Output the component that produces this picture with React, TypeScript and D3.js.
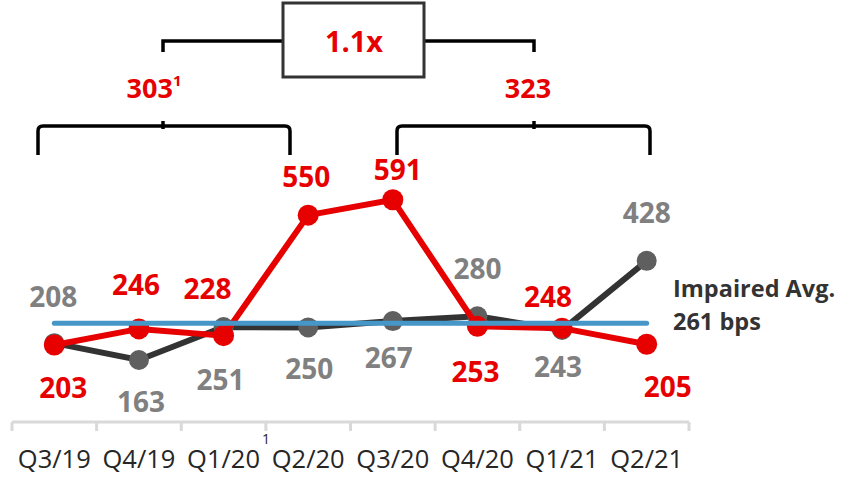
import React from 'react';
import * as d3 from 'd3';

const categories = ['Q3/19', 'Q4/19', 'Q1/20', 'Q2/20', 'Q3/20', 'Q4/20', 'Q1/21', 'Q2/21'];
const redValues = [203, 246, 228, 550, 591, 253, 248, 205];
const grayValues = [208, 163, 251, 250, 267, 280, 243, 428];
const impairedAvg = 261;
const periodAverages = ['303', '323'];
const multipleLabel = '1.1x';

// label nudges in pixels (dx, dy to baseline) relative to each point
const redNudge: [number, number][] = [[9, 53], [-3, -34], [-16, -37], [-2, -28], [5, -20], [-2, 56], [-14, -21], [21, 53]];
const grayNudge: [number, number][] = [[-1, -36], [2, 52], [-3, 63], [1, 52], [-4, 47], [0, -37], [-4, 47], [0, -38]];

const W = 850;
const H = 489;
const RED = '#e60000';
const DARK = '#333333';
const GRAYM = '#5f5f5f';
const GRAYT = '#808080';
const BLUE = '#4696c8';
const FONT = "'Open Sans', sans-serif";

export default function App() {
  const x = d3.scaleBand<string>().domain(categories).range([12, 689]);
  const cx = (c: string) => (x(c) as number) + x.bandwidth() / 2;
  const y = d3.scaleLinear().domain([0, 700]).range([421, 159]);

  const line = d3.line<number>().x((_, i) => cx(categories[i])).y((v) => y(v));

  const boundaries = [...categories.map((c) => x(c) as number), 689];

  const bracket = (x0: number, x1: number, yy: number, drop: number, r: number) =>
    `M${x0},${yy + drop} L${x0},${yy + r} Q${x0},${yy} ${x0 + r},${yy} L${x1 - r},${yy} Q${x1},${yy} ${x1},${yy + r} L${x1},${yy + drop}`;

  const leftMid = 163;
  const rightMid = 534;

  return (
    <svg width={W} height={H} style={{ position: 'absolute', left: 0, top: 0, background: '#fff' }} fontFamily={FONT}>
      {/* top bracket with box */}
      <path d={`M${leftMid},52 L${leftMid},41 L283,41`} fill="none" stroke="#000" strokeWidth={3.5} />
      <path d={`M424,41 L${rightMid},41 L${rightMid},52`} fill="none" stroke="#000" strokeWidth={3.5} />
      <rect x={283} y={3} width={141} height={74} fill="#fff" stroke={DARK} strokeWidth={3} />
      <text x={354} y={52} textAnchor="middle" fill={RED} fontWeight={700} fontSize={29}>{multipleLabel}</text>

      {/* period averages */}
      <text x={154} y={98} textAnchor="middle" fill={RED} fontWeight={700} fontSize={27}>
        {periodAverages[0]}
        <tspan fontSize={15} dy={-12}>1</tspan>
      </text>
      <text x={528} y={98} textAnchor="middle" fill={RED} fontWeight={700} fontSize={27}>{periodAverages[1]}</text>

      {/* lower brackets */}
      <path d={bracket(38, 290, 126, 29, 5)} fill="none" stroke="#000" strokeWidth={3.5} />
      <line x1={leftMid} x2={leftMid} y1={121} y2={129} stroke="#000" strokeWidth={3.5} />
      <path d={bracket(397, 650, 126, 29, 5)} fill="none" stroke="#000" strokeWidth={3.5} />
      <line x1={rightMid} x2={rightMid} y1={121} y2={129} stroke="#000" strokeWidth={3.5} />

      {/* axis */}
      <line x1={12} x2={689} y1={422} y2={422} stroke="#d9d9d9" strokeWidth={3} />
      {boundaries.map((b, i) => (
        <line key={i} x1={b} x2={b} y1={422} y2={431} stroke="#d9d9d9" strokeWidth={3} />
      ))}
      {categories.map((c) => (
        <text key={c} x={cx(c)} y={468} textAnchor="middle" fill="#262626" fontSize={25.5}>{c}</text>
      ))}
      <text x={266} y={444} textAnchor="middle" fill="#262626" fontSize={14}>1</text>

      {/* gray series */}
      <path d={line(grayValues) || ''} fill="none" stroke={DARK} strokeWidth={6} />
      {grayValues.map((v, i) => (
        <circle key={'g' + i} cx={cx(categories[i])} cy={y(v)} r={10} fill={GRAYM} />
      ))}

      {/* red series */}
      <path d={line(redValues) || ''} fill="none" stroke={RED} strokeWidth={6} />
      {redValues.map((v, i) => (
        <circle key={'r' + i} cx={cx(categories[i])} cy={y(v)} r={10.5} fill={RED} />
      ))}

      {/* average line */}
      <line x1={cx(categories[0])} x2={cx(categories[categories.length - 1])} y1={y(impairedAvg)} y2={y(impairedAvg)} stroke={BLUE} strokeWidth={5} strokeLinecap="round" />
      <text x={673} y={297} fill={DARK} fontWeight={700} fontSize={23.5}>Impaired Avg.</text>
      <text x={673} y={330} fill={DARK} fontWeight={700} fontSize={23.5}>{`${impairedAvg} bps`}</text>

      {/* data labels */}
      {grayValues.map((v, i) => (
        <text key={'gl' + i} x={cx(categories[i]) + grayNudge[i][0]} y={y(v) + grayNudge[i][1]} textAnchor="middle" fill={GRAYT} fontWeight={700} fontSize={28}>{v}</text>
      ))}
      {redValues.map((v, i) => (
        <text key={'rl' + i} x={cx(categories[i]) + redNudge[i][0]} y={y(v) + redNudge[i][1]} textAnchor="middle" fill={RED} fontWeight={700} fontSize={28}>{v}</text>
      ))}
    </svg>
  );
}
